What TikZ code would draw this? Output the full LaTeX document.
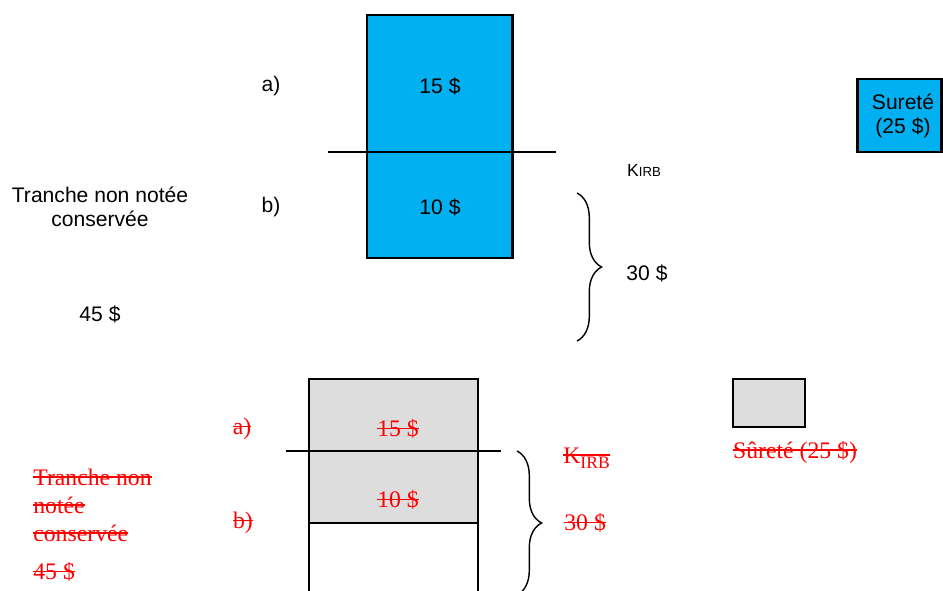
\documentclass[tikz,border=0pt]{standalone}
\usepackage{fontspec}
\setmainfont{Liberation Serif}
\setsansfont{Liberation Sans}
\usetikzlibrary{decorations.pathreplacing}
\definecolor{trancheblue}{RGB}{0,176,240}
\definecolor{tranchegray}{RGB}{221,221,221}
\newsavebox\strikebox
\newcommand\strikeout[1]{\sbox\strikebox{#1}\rlap{\usebox\strikebox}\rule[0.31em]{\wd\strikebox}{1pt}}
\tikzset{
  labeltop/.style={font=\sffamily\fontsize{12}{13.6}\selectfont, inner sep=0pt},
  labelold/.style={text=red, font=\fontsize{13.5}{15.9}\selectfont, inner sep=0pt},
  curly/.style={decorate, decoration={brace, amplitude=14pt}, line width=0.8pt},
}
\begin{document}
\begin{tikzpicture}[x=0.02cm, y=-0.02cm]
  \clip (0,0) rectangle (943,591);

  % new layout (top)
  \draw[line width=1.7pt, fill=trancheblue] (367,15) rectangle (512,258);
  \draw[line width=1.1pt] (328,152) -- (556,152);
  \node[labeltop] (a) at (271,86) {a)};
  \node[labeltop] (b) at (271,207) {b)};
  \node[labeltop] (fifteen) at (440,86) {15 \$};
  \node[labeltop] (ten) at (440,207) {10 \$};
  \node[labeltop, align=center] (tranche) at (100,207) {Tranche non notée\\conservée};
  \node[labeltop] (fortyfive) at (100,314) {45 \$};
  \draw[curly] (577,193) -- (577,341);
  \node[labeltop] (kirb) at (644,170) {\fontsize{10}{12}\selectfont K\fontsize{7.5}{9}\selectfont IRB};
  \node[labeltop] (thirty) at (647,273) {30 \$};
  \draw[line width=1.7pt, fill=trancheblue] (857,79) rectangle (941,152);
  \node[labeltop, align=center] (surete) at (903,116) {Sureté\\(25 \$)};

  % old layout (bottom)
  \fill[tranchegray] (309,379) rectangle (478,523);
  \draw[line width=1pt] (309,600) -- (309,379) -- (478,379) -- (478,600);
  \draw[line width=1pt] (309,523) -- (478,523);
  \draw[line width=1pt] (286,451) -- (501,451);
  \node[labelold] (a old) at (242,429) {\strikeout{a)}};
  \node[labelold] (b old) at (243,523) {\strikeout{b)}};
  \node[labelold] (fifteen old) at (398,429) {\strikeout{15 \$}};
  \node[labelold] (ten old) at (398,500) {\strikeout{10 \$}};
  \node[labelold, anchor=west, align=left] (tranche old) at (33,505)
    {\strikeout{Tranche non}\\\strikeout{notée}\\\strikeout{conservée}};
  \node[labelold, anchor=west] (fortyfive old) at (33,572) {\strikeout{45 \$}};
  \draw[curly] (517,451) -- (517,595);
  \node[labelold, anchor=west] (kirb old) at (563,458) {\strikeout{K\lower3pt\hbox{\fontsize{10}{12}\selectfont IRB}}};
  \node[labelold, anchor=west] (thirty old) at (564,523) {\strikeout{30 \$}};
  \draw[line width=1pt, fill=tranchegray] (733,379) rectangle (805,427);
  \node[labelold] (surete old) at (795,452) {\strikeout{Sûreté (25 \$)}};
\end{tikzpicture}
\end{document}
